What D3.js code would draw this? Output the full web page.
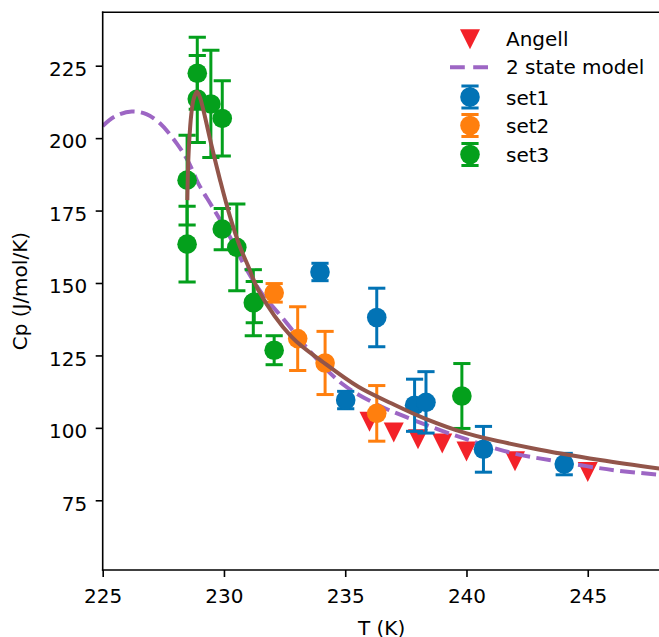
<!DOCTYPE html>
<html>
<head>
<meta charset="utf-8">
<script src="https://cdn.jsdelivr.net/npm/d3@7"></script>
<style>
  html, body { margin: 0; padding: 0; background: #fff; }
  svg { display: block; }
  text { font-family: "DejaVu Sans", sans-serif; fill: #000; }
</style>
</head>
<body>
<svg id="chart" width="659" height="637"></svg>
<script>
// ---------------- data ----------------
const xTicks = [225, 230, 235, 240, 245];
const yTicks = [75, 100, 125, 150, 175, 200, 225];

const angellT  = [236, 237, 238, 239, 240, 242, 245];
const angellCp = [102.1, 98.4, 96.1, 94.6, 91.8, 88.5, 84.8];

const modelT  = [225.0, 225.5, 226.2, 226.8, 227.36, 228.05, 228.53, 228.94, 229.43, 229.7, 230.32, 230.87, 231.56, 232.38, 233.62, 234.86, 236.23, 237.75, 240.02, 241.94, 243.87, 246.07, 248.0];
const modelCp = [204.2, 207.5, 209.2, 208.3, 205.1, 198.2, 191.9, 184.4, 177.5, 173.8, 164.8, 155.6, 146.4, 138.3, 125.7, 115.3, 108.4, 102.9, 96.0, 91.2, 88.3, 85.4, 83.8];

const fitT  = [228.49, 228.52, 228.57, 228.65, 228.75, 228.88, 229.0, 229.15, 229.5, 229.84, 230.25, 230.66, 231.01, 231.42, 232.79, 234.17, 235.54, 236.92, 238.29, 240.01, 242.76, 245.51, 248.0];
const fitCp = [178.6, 190.0, 199.3, 208.0, 213.5, 216.0, 214.3, 209.7, 197.0, 185.5, 172.9, 162.5, 155.6, 147.5, 131.4, 122.2, 114.2, 108.4, 103.2, 98.1, 92.9, 88.9, 85.9];

const set1T   = [233.96, 236.30, 235.02, 237.86, 238.33, 240.70, 244.03];
const set1Cp  = [153.8, 138.1, 109.6, 107.8, 108.8, 92.6, 87.5];
const set1Err = [3.0, 10.1, 3.0, 9.0, 10.6, 7.9, 3.7];

const set2T   = [232.07, 233.04, 234.17, 236.30];
const set2Cp  = [146.6, 130.8, 122.4, 105.0];
const set2Err = [3.2, 11.0, 10.9, 9.6];

const set3T   = [228.90, 228.90, 229.46, 229.93, 228.48, 228.48, 229.93, 230.53, 231.21, 231.25, 232.07, 239.81];
const set3Cp  = [222.4, 213.5, 211.8, 206.8, 185.5, 163.4, 168.6, 162.3, 143.2, 143.4, 126.8, 111.0];
const set3Err = [12.4, 15.0, 18.5, 13.0, 15.5, 13.1, 7.1, 15.0, 11.4, 7.1, 5.0, 11.2];

const legendLabels = ["Angell", "2 state model", "set1", "set2", "set3"];

// ---------------- styles ----------------
const C = {
  red: "#f32229", purple: "#9d66c4", brown: "#92554a",
  blue: "#0273b5", orange: "#ff7f0e", green: "#04a01c"
};

const svg = d3.select("#chart");
const L = 102.7, R = 660.5, T = 12.3, B = 570;
const x = d3.scaleLinear().domain([225, 248]).range([L, R]);
const y = d3.scaleLinear().domain([50.94, 243.43]).range([B, T]);

const clip = svg.append("defs").append("clipPath").attr("id", "clip")
  .append("rect").attr("x", L).attr("y", T).attr("width", R - L).attr("height", B - T);

const plot = svg.append("g").attr("clip-path", "url(#clip)");

function triPath(cx, cy, s) {
  return `M${cx - s},${cy - s}L${cx + s},${cy - s}L${cx},${cy + s}Z`;
}

// Angell triangles
plot.append("g").selectAll("path")
  .data(angellT.map((t, i) => [t, angellCp[i]]))
  .join("path")
  .attr("d", d => triPath(x(d[0]), y(d[1]), 10))
  .attr("fill", C.red);

// 2 state model (dashed)
const line = d3.line().x(d => x(d[0])).y(d => y(d[1])).curve(d3.curveCatmullRom.alpha(0.5));
plot.append("path")
  .datum(modelT.map((t, i) => [t, modelCp[i]]))
  .attr("d", line)
  .attr("fill", "none")
  .attr("stroke", C.purple)
  .attr("stroke-width", 4)
  .attr("stroke-dasharray", "14.8,6.4");

// error bar sets
function drawSet(Ts, Cps, Errs, color) {
  const g = plot.append("g");
  const data = Ts.map((t, i) => ({ t, c: Cps[i], e: Errs[i] }));
  const cap = 8.6;
  data.forEach(d => {
    const cx = x(d.t), y1 = y(d.c + d.e), y2 = y(d.c - d.e);
    g.append("line").attr("x1", cx).attr("x2", cx).attr("y1", y1).attr("y2", y2)
      .attr("stroke", color).attr("stroke-width", 3);
    [y1, y2].forEach(yy => g.append("line")
      .attr("x1", cx - cap).attr("x2", cx + cap).attr("y1", yy).attr("y2", yy)
      .attr("stroke", color).attr("stroke-width", 3));
  });
  g.selectAll("circle").data(data).join("circle")
    .attr("cx", d => x(d.t)).attr("cy", d => y(d.c)).attr("r", 9.8)
    .attr("fill", color);
}
drawSet(set1T, set1Cp, set1Err, C.blue);
drawSet(set2T, set2Cp, set2Err, C.orange);
drawSet(set3T, set3Cp, set3Err, C.green);

// brown fit line
plot.append("path")
  .datum(fitT.map((t, i) => [t, fitCp[i]]))
  .attr("d", line)
  .attr("fill", "none")
  .attr("stroke", C.brown)
  .attr("stroke-width", 4);

// ---------------- axes ----------------
const xAxis = svg.append("g").attr("transform", `translate(0,${B})`)
  .call(d3.axisBottom(x).tickValues(xTicks).tickSize(7).tickPadding(7).tickFormat(d3.format("d")));
xAxis.select(".domain").remove();
xAxis.selectAll(".tick line").attr("stroke", "#000").attr("stroke-width", 1.6);
xAxis.selectAll(".tick text").attr("font-size", 20).attr("y", 33.3).attr("dy", null)
  .style("font-family", "DejaVu Sans");

const yAxis = svg.append("g").attr("transform", `translate(${L},0)`)
  .call(d3.axisLeft(y).tickValues(yTicks).tickSize(7).tickPadding(7).tickFormat(d3.format("d")));
yAxis.select(".domain").remove();
yAxis.selectAll(".tick line").attr("stroke", "#000").attr("stroke-width", 1.6);
yAxis.selectAll(".tick text").attr("font-size", 20).attr("x", -15.5).attr("dy", 9.8)
  .style("font-family", "DejaVu Sans");

// spines
const sp = svg.append("g").attr("stroke", "#000").attr("stroke-width", 1.6).attr("fill", "none");
sp.append("line").attr("x1", L).attr("x2", L).attr("y1", T).attr("y2", B).attr("stroke-linecap", "square");
sp.append("line").attr("x1", L).attr("x2", R).attr("y1", B).attr("y2", B).attr("stroke-linecap", "square");
sp.append("line").attr("x1", L).attr("x2", R).attr("y1", T).attr("y2", T).attr("stroke-linecap", "square");
sp.append("line").attr("x1", R).attr("x2", R).attr("y1", T).attr("y2", B);

// axis labels
svg.append("text").attr("x", (L + R) / 2).attr("y", 634.6).attr("text-anchor", "middle")
  .attr("font-size", 20).text("T (K)");
svg.append("text").attr("transform", `translate(26.5,${(T + B) / 2}) rotate(-90)`)
  .attr("text-anchor", "middle").attr("font-size", 20).text("Cp (J/mol/K)");

// ---------------- legend ----------------
const lg = svg.append("g");
const lx = 470, tx = 506;
const markerY = [39.3, 67.3, 97, 125.5, 154.5];
const textY = [46, 74.3, 105, 133.3, 161.7];
lg.append("path").attr("d", triPath(lx, markerY[0], 10)).attr("fill", C.red);
lg.append("line").attr("x1", 450).attr("x2", 488).attr("y1", markerY[1]).attr("y2", markerY[1])
  .attr("stroke", C.purple).attr("stroke-width", 4).attr("stroke-dasharray", "14.8,8.4");
[C.blue, C.orange, C.green].forEach((col, i) => {
  const cy = markerY[i + 2];
  lg.append("line").attr("x1", lx).attr("x2", lx).attr("y1", cy - 11).attr("y2", cy + 11)
    .attr("stroke", col).attr("stroke-width", 3);
  [cy - 11, cy + 11].forEach(yy => lg.append("line").attr("x1", lx - 8.6).attr("x2", lx + 8.6)
    .attr("y1", yy).attr("y2", yy).attr("stroke", col).attr("stroke-width", 3));
  lg.append("circle").attr("cx", lx).attr("cy", cy).attr("r", 9.8).attr("fill", col);
});
legendLabels.forEach((t, i) => {
  lg.append("text").attr("x", tx).attr("y", textY[i]).attr("font-size", 20).text(t);
});
</script>
</body>
</html>
